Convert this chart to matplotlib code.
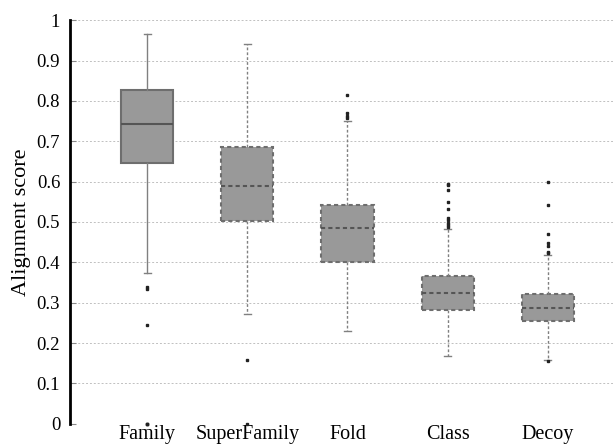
import matplotlib
matplotlib.use("Agg")
import matplotlib.pyplot as plt
import numpy as np

categories = ["Family", "SuperFamily", "Fold", "Class", "Decoy"]
whislo = [0.373, 0.273, 0.230, 0.168, 0.158]
q1 = [0.646, 0.503, 0.402, 0.281, 0.255]
med = [0.742, 0.590, 0.486, 0.325, 0.286]
q3 = [0.828, 0.686, 0.543, 0.365, 0.322]
whishi = [0.965, 0.942, 0.751, 0.482, 0.418]
fliers = [
    [0.340, 0.333, 0.245, 0.0, 0.0, 0.0],
    [0.158, 0.0],
    [0.815, 0.771, 0.762, 0.757],
    [0.595, 0.591, 0.580, 0.550, 0.531, 0.510, 0.504, 0.498, 0.492, 0.487],
    [0.600, 0.543, 0.469, 0.447, 0.441, 0.425, 0.423, 0.155],
]

plt.rcParams['font.family'] = ['Liberation Serif', 'DejaVu Serif']

fig = plt.figure(figsize=(6.13, 4.48), dpi=100)
ax = fig.add_axes([0.114, 0.054, 0.886, 0.901])

stats = []
for i, c in enumerate(categories):
    stats.append(dict(label=c, whislo=whislo[i], q1=q1[i], med=med[i],
                      q3=q3[i], whishi=whishi[i], fliers=fliers[i]))

pos = np.arange(1, len(categories) + 1)
box_fill = '#999999'
edge = '#6e6e6e'
for i, s in enumerate(stats):
    ls = '-' if i == 0 else (0, (2, 1.5))
    ax.bxp([s], positions=[pos[i]], widths=0.52, patch_artist=True,
           boxprops=dict(facecolor=box_fill, edgecolor=edge, linewidth=1.5, linestyle=ls),
           medianprops=dict(color='#555555', linewidth=1.5, linestyle=ls),
           whiskerprops=dict(color='#808080', linewidth=1.0, linestyle=ls),
           capprops=dict(color='#808080', linewidth=1.0),
           capwidths=0.07,
           flierprops=dict(marker='s', markersize=1.6, markerfacecolor='#222222',
                           markeredgecolor='#222222', clip_on=False, zorder=5))

ax.set_xlim(0.23, 5.65)
ax.set_ylim(0, 1)
ax.set_yticks(np.arange(0, 1.01, 0.1))
ax.set_yticklabels(['0', '0.1', '0.2', '0.3', '0.4', '0.5', '0.6', '0.7', '0.8', '0.9', '1'])
ax.set_xticks(pos)
ax.set_xticklabels(categories, fontsize=14.5)
ax.tick_params(axis='y', direction='in', length=4, color='#888888', labelsize=13.5, pad=7)
ax.tick_params(axis='x', length=0, pad=1)
ax.set_ylabel('Alignment score', fontsize=16, labelpad=4)

ax.yaxis.grid(True, linestyle=(0, (2, 2)), color='#c0c0c0', linewidth=0.7)
ax.set_axisbelow(True)
for sp in ['top', 'right', 'bottom']:
    ax.spines[sp].set_visible(False)
ax.spines['left'].set_linewidth(2)
ax.spines['left'].set_color('black')

fig.savefig('out.png', dpi=100)
